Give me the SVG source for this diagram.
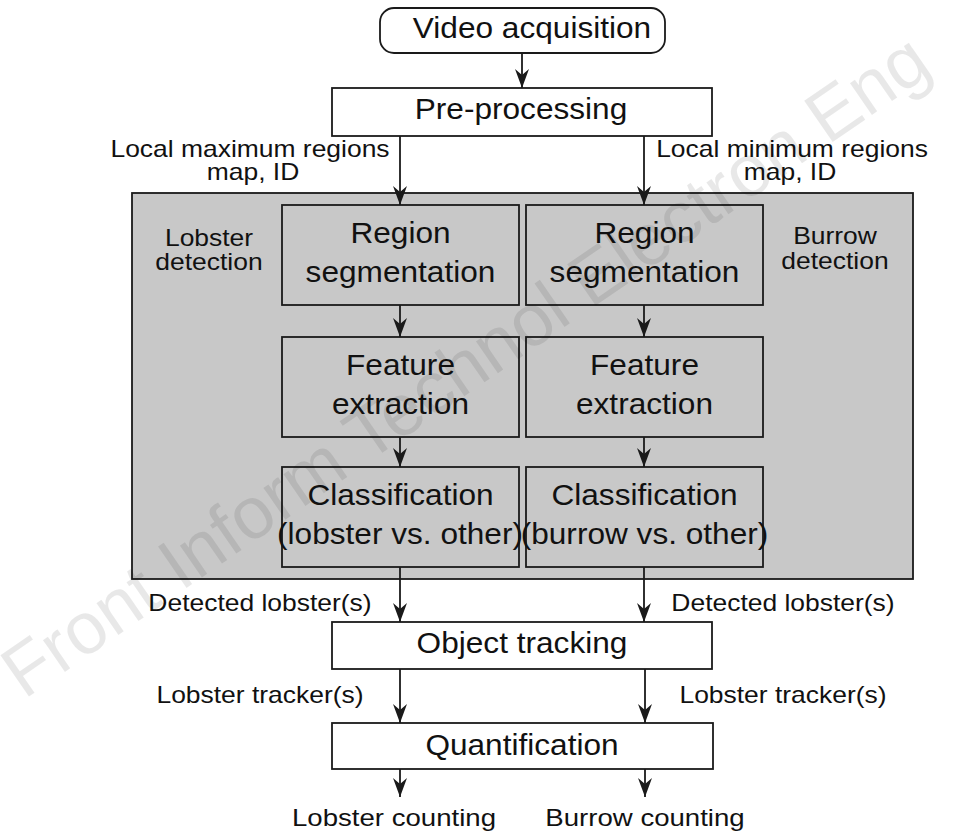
<svg xmlns="http://www.w3.org/2000/svg" width="976" height="834" viewBox="0 0 976 834">
  <style>
    .box { fill: #ffffff; stroke: #1a1a1a; stroke-width: 1.8; }
    .panel { fill: #c8c8c8; stroke: #1a1a1a; stroke-width: 1.8; }
    .inner { fill: #c8c8c8; stroke: #1a1a1a; stroke-width: 1.8; }
    .big { font-family: "Liberation Sans", Arial, sans-serif; font-size: 29px; fill: #111; text-anchor: middle; }
    .small { font-family: "Liberation Sans", Arial, sans-serif; font-size: 23px; fill: #111; text-anchor: middle; }
    .link { stroke: #1a1a1a; stroke-width: 1.8; fill: none; marker-end: url(#arrow); }
    .mark { font-family: "Liberation Sans", Arial, sans-serif; font-size: 73px; fill: #000; fill-opacity: 0.09; }
  </style>
  <defs>
    <marker id="arrow" viewBox="0 0 14 19" refX="7" refY="19" markerWidth="14" markerHeight="19" markerUnits="userSpaceOnUse" orient="0">
      <path d="M0,0 L7,6 L14,0 L7,19 Z" fill="#1a1a1a"/>
    </marker>
  </defs>

  <rect width="976" height="834" fill="#ffffff"/>

  <!-- detection panel -->
  <g id="detection-panel">
    <rect class="panel" x="132" y="193" width="781" height="386"/>
    <text class="small" transform="translate(209 246) scale(1.15 1)">Lobster</text>
    <text class="small" transform="translate(209 270) scale(1.15 1)">detection</text>
    <text class="small" transform="translate(835 244) scale(1.15 1)">Burrow</text>
    <text class="small" transform="translate(835 269) scale(1.15 1)">detection</text>
  </g>

  <g id="video-acquisition">
    <rect class="box" x="380" y="8" width="285" height="45" rx="14"/>
    <text class="big" transform="translate(532 38) scale(1.09 1)">Video acquisition</text>
  </g>

  <g id="pre-processing">
    <rect class="box" x="332" y="88" width="380" height="48"/>
    <text class="big" transform="translate(521 119) scale(1.09 1)">Pre-processing</text>
  </g>

  <g id="segmentation-lobster">
    <rect class="inner" x="282" y="205" width="237" height="100"/>
    <text class="big" transform="translate(400.5 243) scale(1.09 1)">Region</text>
    <text class="big" transform="translate(400.5 282) scale(1.09 1)">segmentation</text>
  </g>
  <g id="segmentation-burrow">
    <rect class="inner" x="526" y="205" width="237" height="100"/>
    <text class="big" transform="translate(644.5 243) scale(1.09 1)">Region</text>
    <text class="big" transform="translate(644.5 282) scale(1.09 1)">segmentation</text>
  </g>

  <g id="features-lobster">
    <rect class="inner" x="282" y="337" width="237" height="100"/>
    <text class="big" transform="translate(400.5 375) scale(1.09 1)">Feature</text>
    <text class="big" transform="translate(400.5 414) scale(1.09 1)">extraction</text>
  </g>
  <g id="features-burrow">
    <rect class="inner" x="526" y="337" width="237" height="100"/>
    <text class="big" transform="translate(644.5 375) scale(1.09 1)">Feature</text>
    <text class="big" transform="translate(644.5 414) scale(1.09 1)">extraction</text>
  </g>

  <g id="classification-lobster">
    <rect class="inner" x="282" y="467" width="237" height="100"/>
    <text class="big" transform="translate(400.5 505) scale(1.09 1)">Classification</text>
    <text class="big" transform="translate(400 544) scale(1.09 1)">(lobster vs. other)</text>
  </g>
  <g id="classification-burrow">
    <rect class="inner" x="526" y="467" width="237" height="100"/>
    <text class="big" transform="translate(644.5 505) scale(1.09 1)">Classification</text>
    <text class="big" transform="translate(644.5 544) scale(1.09 1)">(burrow vs. other)</text>
  </g>

  <g id="object-tracking">
    <rect class="box" x="332" y="622" width="380" height="47"/>
    <text class="big" transform="translate(522 653) scale(1.09 1)">Object tracking</text>
  </g>

  <g id="quantification">
    <rect class="box" x="332" y="723" width="381" height="46"/>
    <text class="big" transform="translate(522 755) scale(1.09 1)">Quantification</text>
  </g>

  <g id="outputs">
    <text class="small" transform="translate(394 826) scale(1.2 1)">Lobster counting</text>
    <text class="small" transform="translate(645 826) scale(1.2 1)">Burrow counting</text>
  </g>

  <!-- connectors -->
  <g id="connectors">
    <line class="link" x1="522" y1="53" x2="522" y2="88"/>
    <line class="link" x1="400" y1="136" x2="400" y2="205"/>
    <line class="link" x1="644" y1="136" x2="644" y2="205"/>
    <line class="link" x1="400" y1="305" x2="400" y2="337"/>
    <line class="link" x1="644" y1="305" x2="644" y2="337"/>
    <line class="link" x1="400" y1="437" x2="400" y2="467"/>
    <line class="link" x1="644" y1="437" x2="644" y2="467"/>
    <line class="link" x1="400" y1="567" x2="400" y2="622"/>
    <line class="link" x1="644" y1="567" x2="644" y2="622"/>
    <line class="link" x1="400" y1="669" x2="400" y2="723"/>
    <line class="link" x1="645" y1="669" x2="645" y2="723"/>
    <line class="link" x1="400" y1="769" x2="400" y2="797"/>
    <line class="link" x1="645" y1="769" x2="645" y2="797"/>
  </g>

  <!-- connector labels -->
  <g id="connector-labels">
    <text class="small" transform="translate(250 157) scale(1.15 1)">Local maximum regions</text>
    <text class="small" transform="translate(253 180) scale(1.15 1)">map, ID</text>
    <text class="small" transform="translate(792 157) scale(1.15 1)">Local minimum regions</text>
    <text class="small" transform="translate(790 180) scale(1.15 1)">map, ID</text>
    <text class="small" transform="translate(260 611) scale(1.15 1)">Detected lobster(s)</text>
    <text class="small" transform="translate(783 611) scale(1.15 1)">Detected lobster(s)</text>
    <text class="small" transform="translate(260 703) scale(1.15 1)">Lobster tracker(s)</text>
    <text class="small" transform="translate(783 703) scale(1.15 1)">Lobster tracker(s)</text>
  </g>

  <!-- journal watermark -->
  <text class="mark" transform="translate(24 700) rotate(-34.6)">Front Inform Technol Electron Eng</text>
</svg>
